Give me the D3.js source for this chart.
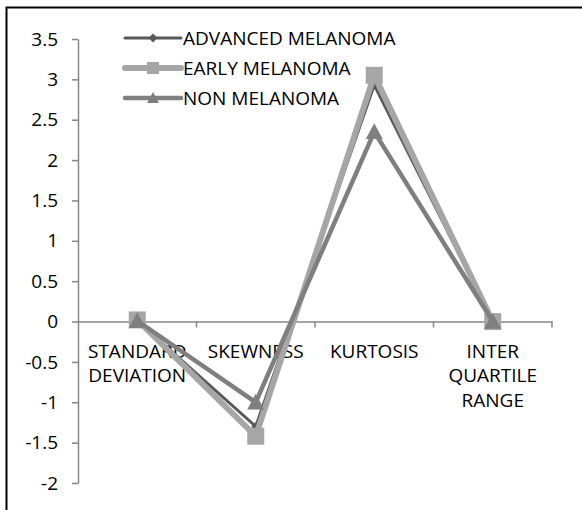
<!DOCTYPE html>
<html>
<head>
<meta charset="utf-8">
<script src="https://cdn.jsdelivr.net/npm/d3@7"></script>
<style>
  html, body { margin: 0; padding: 0; background: #fff; }
  svg text { font-family: "Open Sans", "Liberation Sans", sans-serif; fill: #000; }
</style>
</head>
<body>
<svg id="chart" width="582" height="510"></svg>
<script>
// Texture statistics per lesion class
const categories = [
  ["STANDARD", "DEVIATION"],
  ["SKEWNESS"],
  ["KURTOSIS"],
  ["INTER", "QUARTILE", "RANGE"]
];
const advancedMelanoma = [0.01, -1.30, 2.93, 0.0];
const earlyMelanoma    = [0.02, -1.42, 3.05, 0.0];
const nonMelanoma      = [0.01, -1.00, 2.35, 0.0];
const yTicks = [3.5, 3, 2.5, 2, 1.5, 1, 0.5, 0, -0.5, -1, -1.5, -2];

const series = [
  { name: "ADVANCED MELANOMA", values: advancedMelanoma, color: "#595959", width: 3,   marker: "diamond",  size: 9,  legendSize: 9 },
  { name: "EARLY MELANOMA",    values: earlyMelanoma,    color: "#a6a6a6", width: 6,   marker: "square",   size: 17, legendSize: 12 },
  { name: "NON MELANOMA",      values: nonMelanoma,      color: "#7f7f7f", width: 4.5, marker: "triangle", size: 17, legendSize: 12 }
];

const FONT = 19;
const svg = d3.select("#chart");

// outer frame (top and left edges visible)
svg.append("rect")
  .attr("x", 6.5).attr("y", 7.5)
  .attr("width", 600).attr("height", 600)
  .attr("fill", "none").attr("stroke", "#000").attr("stroke-width", 2);

const plot = { left: 78, right: 552, top: 39, bottom: 483 };

const x = d3.scaleBand()
  .domain(d3.range(categories.length))
  .range([plot.left, plot.right]);
const y = d3.scaleLinear().domain([-2, 3.5]).range([plot.bottom, plot.top]);

// y axis
const yAxis = svg.append("g")
  .attr("transform", `translate(${plot.left},0)`)
  .call(d3.axisLeft(y).tickValues(yTicks).tickFormat(d => String(d)).tickSize(6).tickPadding(14).tickSizeOuter(0));
yAxis.select(".domain").attr("stroke", "#868686").attr("stroke-width", 1.5);
yAxis.selectAll(".tick line").attr("stroke", "#868686").attr("stroke-width", 1.5);
yAxis.selectAll(".tick text").attr("font-size", FONT).style("font-family", "'Open Sans', sans-serif");

// category axis along y = 0
const xAxisG = svg.append("g")
  .attr("transform", `translate(0,${y(0)})`)
  .call(d3.axisBottom(x).tickValues([]).tickSizeOuter(0));
xAxisG.select(".domain").attr("stroke", "#868686").attr("stroke-width", 1.5);
const boundaries = d3.range(categories.length + 1).map(i => plot.left + i * x.step());
xAxisG.selectAll("line.sep").data(boundaries.slice(1)).enter().append("line")
  .attr("class", "sep")
  .attr("x1", d => d).attr("x2", d => d)
  .attr("y1", 0).attr("y2", 6)
  .attr("stroke", "#868686").attr("stroke-width", 1.5);

// category labels
const labels = svg.append("g");
categories.forEach((lines, i) => {
  const t = labels.append("text")
    .attr("x", x(i) + x.bandwidth() / 2)
    .attr("y", y(0) + 36)
    .attr("text-anchor", "middle")
    .attr("font-size", FONT);
  lines.forEach((ln, j) => {
    t.append("tspan")
      .attr("x", x(i) + x.bandwidth() / 2)
      .attr("dy", j === 0 ? 0 : 24.5)
      .text(ln);
  });
});

function markerPath(type, size) {
  const s = size / 2;
  if (type === "diamond") return `M0,${-s}L${s},0L0,${s}L${-s},0Z`;
  if (type === "square") return `M${-s},${-s}H${s}V${s}H${-s}Z`;
  // triangle
  return `M0,${-s}L${s},${s * 0.85}H${-s}Z`;
}

const line = d3.line()
  .x((d, i) => x(i) + x.bandwidth() / 2)
  .y(d => y(d));

series.forEach(s => {
  const g = svg.append("g");
  g.append("path")
    .attr("d", line(s.values))
    .attr("fill", "none")
    .attr("stroke", s.color)
    .attr("stroke-width", s.width)
    .attr("stroke-linejoin", "round");
  g.selectAll("path.mk").data(s.values).enter().append("path")
    .attr("class", "mk")
    .attr("d", markerPath(s.marker, s.size))
    .attr("transform", (d, i) => `translate(${x(i) + x.bandwidth() / 2},${y(d)})`)
    .attr("fill", s.color);
});

// legend
const legend = svg.append("g");
series.forEach((s, i) => {
  const ly = 38 + i * 30;
  legend.append("line")
    .attr("x1", 125).attr("x2", 181)
    .attr("y1", ly).attr("y2", ly)
    .attr("stroke", s.color).attr("stroke-width", s.width)
    .attr("stroke-linecap", "round");
  legend.append("path")
    .attr("d", markerPath(s.marker, s.legendSize))
    .attr("transform", `translate(153,${ly})`)
    .attr("fill", s.color);
  legend.append("text")
    .attr("x", 183).attr("y", ly)
    .attr("dy", "0.35em")
    .attr("font-size", FONT)
    .text(s.name);
});
</script>
</body>
</html>
